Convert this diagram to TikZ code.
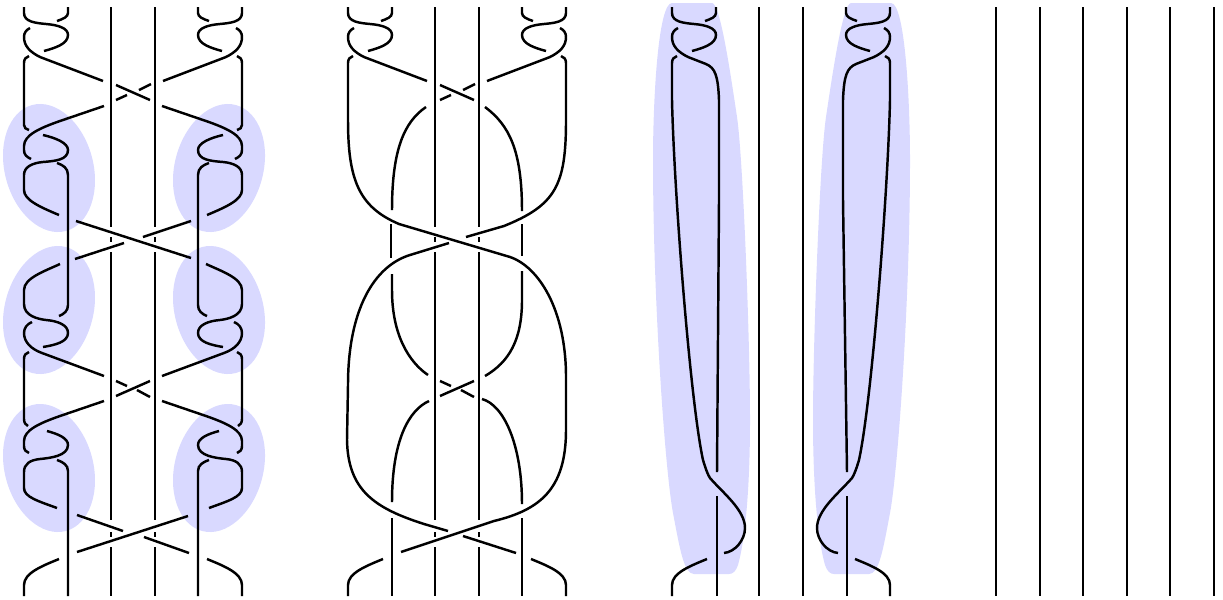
\documentclass[tikz,border=0pt]{standalone}
\usepackage{xcolor}
\tikzset{
  strand/.style={line width=1.4pt},
  blob/.style={fill=blue!15,draw=none}
}
\newcommand{\twisttop}[1]{
  \draw[strand] (24,7) -- (24,13) .. controls (24,22) and (36,23) .. (46,24) .. controls (58,25) and (68,28) .. (68,35) .. controls (68,44) and (55,48) .. (44,51);
  \draw[strand] (68,7) -- (68,13) .. controls (68,17) and (63,19) .. (57,21);
  \draw[strand] (30,28) .. controls (26,30) and (24,33) .. (24,37) .. controls (24,46) and (30,52) .. (40,57) #1;
}
\newcommand{\centrelines}{
  \foreach \x in {111,155} {
    \draw[strand] (\x,7) -- (\x,227);
    \draw[strand] (\x,237) -- (\x,242);
    \draw[strand] (\x,252) -- (\x,520);
    \draw[strand] (\x,532) -- (\x,537);
    \draw[strand] (\x,547) -- (\x,596);
  }
}
\newcommand{\crossings}{
  \draw[strand] (116,85) -- (150,100);
  \draw[strand] (151,84) -- (139,90);
  \draw[strand] (127,95) -- (116,100);
  \draw[strand] (116,381) -- (127,386);
  \draw[strand] (137,390) -- (150,397);
  \draw[strand] (116,396) -- (150,381);
}
\newcommand{\footleg}{
  \draw[strand] (59,559) .. controls (42,566) and (24,573) .. (24,585) -- (24,596);
}
\newcommand{\fullside}{
  \twisttop{-- (103,81)}
  \draw[strand] (29,56) .. controls (26,57) and (24,59) .. (24,63) -- (24,125) .. controls (24,128) and (26,129) .. (29,130);
  \draw[strand] (104,106) -- (60,121) .. controls (40,128) and (24,135) .. (24,146) -- (24,150) .. controls (24,155) and (27,157) .. (31,159);
  \draw[strand] (43,135) .. controls (56,138) and (68,143) .. (68,150) .. controls (68,160) and (55,161) .. (43,162) .. controls (32,163) and (24,167) .. (24,175) -- (24,190) .. controls (24,200) and (40,207) .. (59,215);
  \draw[strand] (57,163) .. controls (63,165) and (68,168) .. (68,175) -- (68,305) .. controls (68,311) and (64,314) .. (59,316);
  \draw[strand] (60,264) .. controls (45,271) and (24,278) .. (24,290) -- (24,304) .. controls (24,316) and (38,319) .. (46,320) .. controls (58,321) and (68,325) .. (68,333) .. controls (68,342) and (55,345) .. (43,347);
  \draw[strand] (32,322) .. controls (27,324) and (24,328) .. (24,333) .. controls (24,342) and (31,349) .. (42,353) -- (104,376);
  \draw[strand] (29,352) .. controls (26,353) and (24,355) .. (24,359) -- (24,419) .. controls (24,423) and (26,425) .. (28,426);
  \draw[strand] (104,401) -- (60,416) .. controls (40,423) and (24,430) .. (24,441) -- (24,446) .. controls (24,450) and (26,452) .. (29,453);
  \draw[strand] (47,431) .. controls (58,434) and (68,438) .. (68,445) .. controls (68,456) and (50,458) .. (40,459) .. controls (30,460) and (24,464) .. (24,472) -- (24,488) .. controls (24,497) and (38,501) .. (57,508);
  \draw[strand] (57,460) .. controls (63,462) and (68,465) .. (68,471) -- (68,596);
  \footleg
}
\newcommand{\longside}[1]{
  \twisttop{-- (58,64) .. controls (67,68) and (70,75) .. (71,100) -- (71,200) -- (#1,472)}
  \draw[strand] (29,56) .. controls (26,57) and (24,59) .. (24,63) -- (24,100) .. controls (26,190) and (42,400) .. (55,460) .. controls (58,470) and (60,475) .. (62,478) .. controls (75,493) and (97,510) .. (97,528) .. controls (97,540) and (87,552) .. (76,553);
  \draw[strand] (#1,496) -- (#1,596);
  \footleg
}
\newcommand{\longblob}{
  \fill[blob] (672,3) -- (712,3) .. controls (720,3) and (730,70) .. (737,117) .. controls (743,157) and (750,340) .. (750,420) .. controls (750,490) and (745,540) .. (738,565) .. controls (736,571) and (733,574) .. (729,574) -- (694,574) .. controls (684,574) and (680,550) .. (673,513) .. controls (665,470) and (653,300) .. (653,160) .. controls (653,100) and (658,3) .. (672,3) -- cycle;
}
\begin{document}
\begin{tikzpicture}[x=0.02cm,y=-0.02cm]
\useasboundingbox (0,0) rectangle (1223,599);
% shaded regions, first column
\foreach \cy/\turn in {168/15,310/-15,468/15} {
  \fill[blob,rotate around={\turn:(49,\cy)}] (49,\cy) ellipse [x radius=44.3,y radius=65.2];
  \fill[blob,rotate around={-\turn:(219,\cy)}] (219,\cy) ellipse [x radius=44.3,y radius=65.2];
}
\longblob
\begin{scope}[shift={(1563,0)},xscale=-1]
\longblob
\end{scope}
% first column
\fullside
\begin{scope}[shift={(266,0)},xscale=-1]
\fullside
\end{scope}
\centrelines
\crossings
\draw[strand] (76,221) -- (191,258);
\draw[strand] (75,259) -- (124,243);
\draw[strand] (143,237) -- (191,221);
\draw[strand] (77,515) -- (123,531);
\draw[strand] (144,537) -- (189,553);
\draw[strand] (77,552) -- (188,516);
% second column
\begin{scope}[shift={(324,0)}]
\twisttop{-- (103,81)}
\begin{scope}[shift={(266,0)},xscale=-1]
\twisttop{-- (103,81)}
\footleg
\end{scope}
\footleg
\centrelines
\crossings
\draw[strand] (29,56) .. controls (26,57) and (24,59) .. (24,63) -- (24,120) .. controls (24,180) and (35,207) .. (75,224) -- (186,257) .. controls (215,267) and (242,310) .. (242,377) -- (242,430) .. controls (242,490) and (215,510) .. (170,521) -- (77,552);
\draw[strand] (237,56) .. controls (240,57) and (242,59) .. (242,63) -- (242,120) .. controls (242,185) and (232,205) .. (180,226) -- (142,237);
\draw[strand] (125,243) -- (86,255) .. controls (50,266) and (24,310) .. (24,385) -- (23,440) .. controls (24,490) and (50,508) .. (100,524) -- (124,531);
\draw[strand] (139,536) -- (192,553);
\draw[strand] (102,107) .. controls (80,122) and (68,150) .. (68,210);
\draw[strand] (67,224) -- (67,258);
\draw[strand] (68,274) -- (68,290) .. controls (68,335) and (85,362) .. (104,375);
\draw[strand] (161,107) .. controls (185,125) and (198,150) .. (198,211);
\draw[strand] (198,224) -- (198,256);
\draw[strand] (198,271) -- (198,300) .. controls (198,340) and (185,362) .. (161,376);
\draw[strand] (105,401) .. controls (85,410) and (68,440) .. (68,502);
\draw[strand] (68,518) -- (68,596);
\draw[strand] (158,399) .. controls (180,405) and (198,445) .. (198,504);
\draw[strand] (198,518) -- (198,596);
\end{scope}
% third column
\begin{scope}[shift={(648,0)}]
\longside{69}
\begin{scope}[shift={(266,0)},xscale=-1]
\longside{67}
\end{scope}
\draw[strand] (111,7) -- (111,596);
\draw[strand] (155,7) -- (155,596);
\end{scope}
% fourth column
\foreach \x in {996,1040,1083,1127,1170,1214} {
  \draw[strand] (\x,7) -- (\x,596);
}
\end{tikzpicture}
\end{document}
